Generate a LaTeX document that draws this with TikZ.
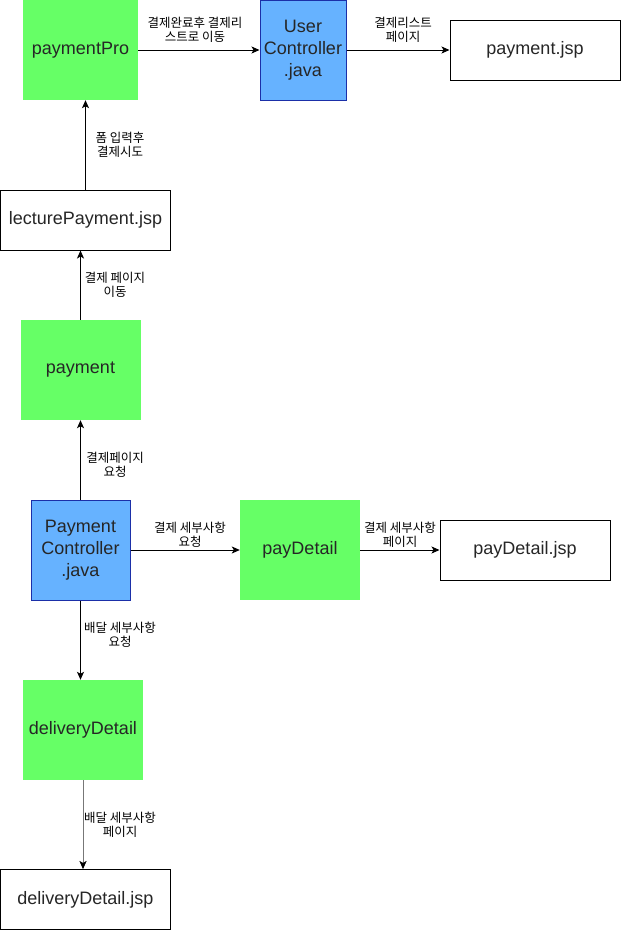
\documentclass[tikz,border=0pt]{standalone}
\usepackage{fontspec}
\setmainfont{Liberation Sans}
\newfontfamily\krfont{Noto Sans CJK KR}
\usetikzlibrary{arrows.meta}
\definecolor{boxgreen}{HTML}{66FF66}
\definecolor{boxblue}{HTML}{66B2FF}
\definecolor{blueedge}{HTML}{1B2FA8}
\definecolor{greyline}{HTML}{777777}
\tikzset{
  basebox/.style={inner sep=0pt, align=center, font=\fontsize{18}{22}\selectfont, text=black!85},
  greenbox/.style={basebox, fill=boxgreen, draw=none, minimum width=#1, minimum height=100},
  bluebox/.style={basebox, fill=boxblue, draw=blueedge, line width=1pt, minimum width=#1, minimum height=100},
  pagebox/.style={basebox, fill=white, draw=black, line width=1pt, minimum width=170, minimum height=60},
  flow/.style={draw=black, line width=1pt, -{Stealth[length=8pt, width=7pt, inset=2pt]}},
  lbl/.style={inner sep=0pt, align=center, font=\krfont\fontsize{12.5}{14.5}\selectfont, text=black}
}
\begin{document}
\begin{tikzpicture}[x=1pt, y=-1pt]
  \useasboundingbox[fill=white] (0,0) rectangle (621,930);

  % boxes
  \node[greenbox=115] (pro) at (80.5,50) {paymentPro};
  \node[bluebox=86] (user) at (303,50) {User\\Controller\\.java};
  \node[pagebox] (payjsp) at (535,50) {payment.jsp};
  \node[pagebox] (lecture) at (85.5,220) {lecturePayment.jsp};
  \node[greenbox=120] (payment) at (80.5,370) {payment};
  \node[bluebox=99] (pc) at (80.5,550) {Payment\\Controller\\.java};
  \node[greenbox=120] (paydetail) at (300,550) {payDetail};
  \node[pagebox] (paydetailjsp) at (525,550) {payDetail.jsp};
  \node[greenbox=120] (delivery) at (83,730) {deliveryDetail};
  \node[pagebox] (deliveryjsp) at (85.5,899.5) {deliveryDetail.jsp};

  % connectors
  \draw[flow] (pro.east) -- (user.west);
  \draw[flow] (user.east) -- (payjsp.west);
  \draw[flow] (lecture.north) -- (lecture.north |- pro.south);
  \draw[flow] (payment.north) -- (payment.north |- lecture.south);
  \draw[flow] (pc.north) -- (payment.south);
  \draw[flow] (pc.east) -- (paydetail.west);
  \draw[flow] (paydetail.east) -- (paydetailjsp.west);
  \draw[flow] (pc.south) -- (pc.south |- delivery.north);
  \draw[flow, draw=greyline] (delivery.south) -- (delivery.south |- deliveryjsp.north);
  \fill[black] (83,869) -- ++(-3.5,-8) -- ++(3.5,2) -- ++(3.5,-2) -- cycle;

  % connector labels
  \node[lbl] (t1) at (195,30) {결제완료후 결제리\\스트로 이동};
  \node[lbl] (t2) at (403,30) {결제리스트\\페이지};
  \node[lbl] (t3) at (120,145) {폼 입력후\\결제시도};
  \node[lbl] (t4) at (115,285) {결제 페이지\\이동};
  \node[lbl] (t5) at (115,465) {결제페이지\\요청};
  \node[lbl] (t6) at (190,535) {결제 세부사항\\요청};
  \node[lbl] (t7) at (400,535) {결제 세부사항\\페이지};
  \node[lbl] (t8) at (120,635) {배달 세부사항\\요청};
  \node[lbl] (t9) at (120,825) {배달 세부사항\\페이지};
\end{tikzpicture}
\end{document}
